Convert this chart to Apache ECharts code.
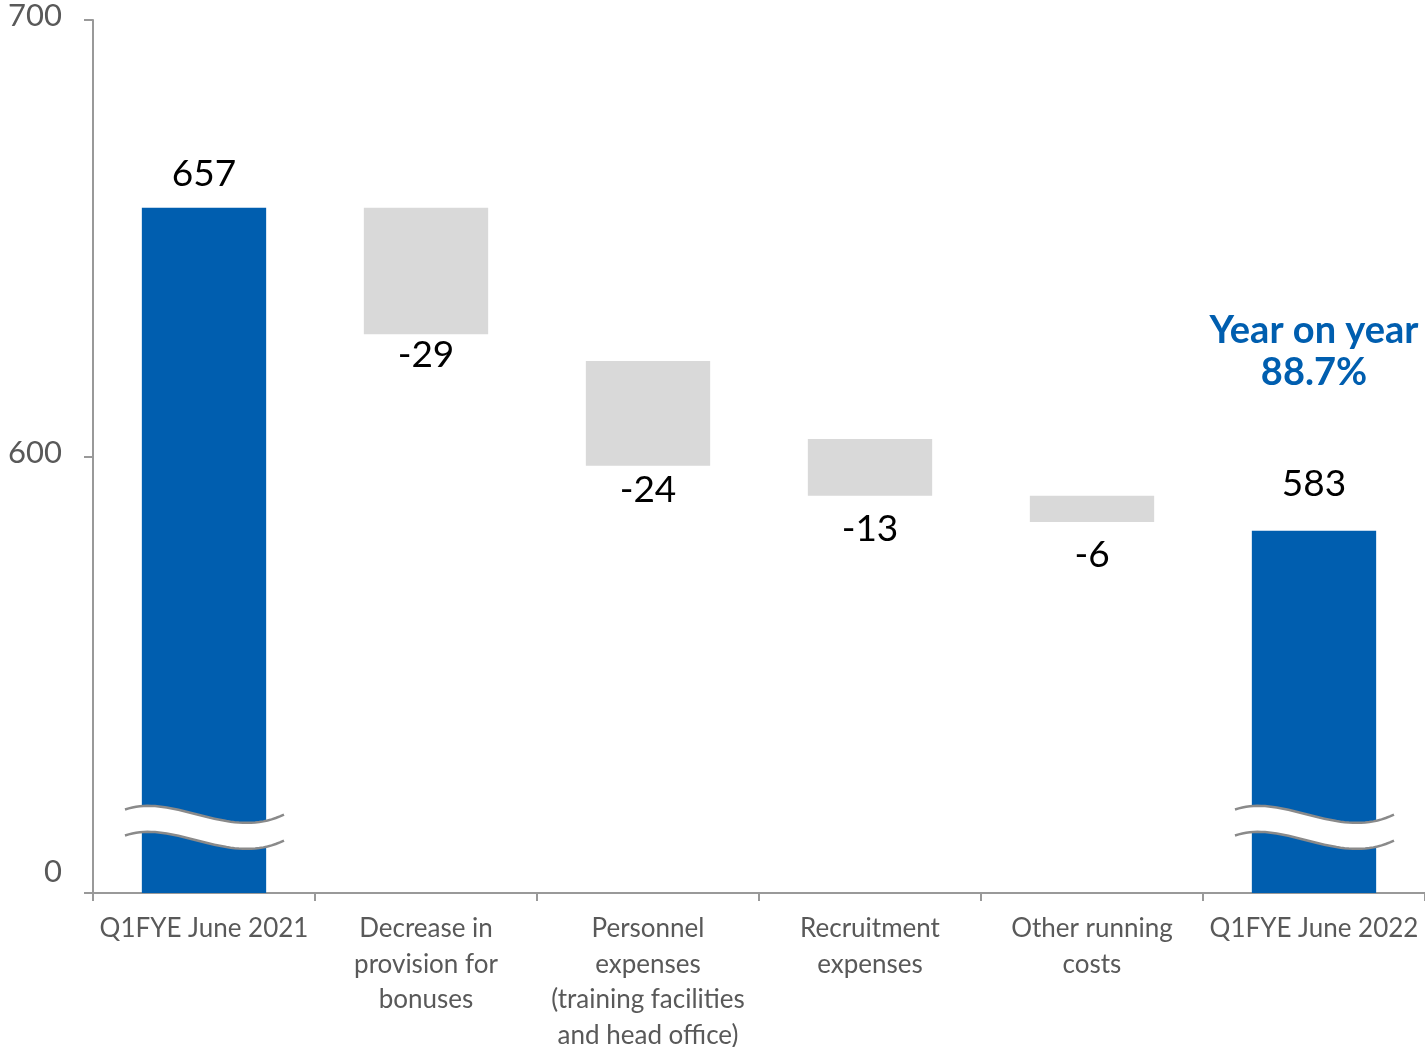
<!DOCTYPE html>
<html>
<head>
<meta charset="utf-8">
<title>Operating expenses bridge</title>
<script src="https://cdn.jsdelivr.net/npm/echarts@6/dist/echarts.min.js"></script>
<style>
  html, body { margin: 0; padding: 0; background: #ffffff; }
  #chart { width: 1425px; height: 1047px; }
</style>
</head>
<body>
<div id="chart"></div>
<script>
// ---- data ----
const categories = [
  'Q1FYE June 2021',
  'Decrease in\nprovision for\nbonuses',
  'Personnel\nexpenses\n(training facilities\nand head office)',
  'Recruitment\nexpenses',
  'Other running\ncosts',
  'Q1FYE June 2022'
];
const totals = [657, null, null, null, null, 583];
const changes = [null, -29, -24, -13, -6, null];
const changeStarts = [null, 657, 621.9, 604.0, 591.0, null];
const yTickValues = [500, 600, 700];
const yTickLabels = ['0', '600', '700'];
const breakLevel = 515;               // value where the broken axis is marked on the total bars
const yoyLines = ['Year on year', '88.7%'];

// ---- styling ----
const BLUE = '#005EAF';
const GREY_BAR = '#D9D9D9';
const AXIS = '#999999';
const TEXT_GREY = '#595959';
const FONT = 'Lato, "Open Sans", sans-serif';
const totalLabelGap = { 0: 14, 5: 27 };
const changeLabelGap = { 1: 1, 2: 4, 3: 13, 4: 13 };

const chart = echarts.init(document.getElementById('chart'), null, { renderer: 'canvas' });

const totalData = totals.map((v, i) => v == null ? '-' : {
  value: v,
  label: { distance: totalLabelGap[i] }
});
const baseData = changes.map((c, i) => c == null ? '-' : changeStarts[i] + c);
const changeData = changes.map((c, i) => c == null ? '-' : {
  value: -c,
  label: { distance: changeLabelGap[i] }
});

// cubic bezier sampled into points (relative to the band centre line)
function bezierPoints(p, dy, n) {
  const pts = [];
  for (let k = 0; k <= n; k++) {
    const t = k / n, u = 1 - t;
    const a = u * u * u, b = 3 * u * u * t, c = 3 * u * t * t, d = t * t * t;
    pts.push([a * p[0][0] + b * p[1][0] + c * p[2][0] + d * p[3][0],
              a * p[0][1] + b * p[1][1] + c * p[2][1] + d * p[3][1] + dy]);
  }
  return pts;
}
const waveCtrl = [[-79, -5], [-30, -22], [25, 27], [80, 0]];
const waveGap = 26;

function renderBreak(params, api) {
  const c = api.coord([api.value(0), api.value(1)]);
  const top = bezierPoints(waveCtrl, -waveGap / 2, 40).map(p => [c[0] + p[0], c[1] + p[1]]);
  const bottom = bezierPoints(waveCtrl, waveGap / 2, 40).map(p => [c[0] + p[0], c[1] + p[1]]);
  const band = top.concat(bottom.slice().reverse());
  return {
    type: 'group',
    children: [
      { type: 'polygon', shape: { points: band }, style: { fill: '#ffffff' } },
      { type: 'polyline', shape: { points: top }, style: { stroke: '#8a8a8a', lineWidth: 2.5, fill: null } },
      { type: 'polyline', shape: { points: bottom }, style: { stroke: '#8a8a8a', lineWidth: 2.5, fill: null } }
    ]
  };
}

const option = {
  backgroundColor: '#ffffff',
  animation: false,
  textStyle: { fontFamily: FONT },
  grid: { left: 93, right: 0, top: 20, bottom: 154, containLabel: false, outerBoundsMode: 'none' },
  xAxis: {
    type: 'category',
    data: categories,
    boundaryGap: true,
    axisLine: { show: true, lineStyle: { color: AXIS, width: 2 } },
    axisTick: { show: true, length: 8, alignWithLabel: false, lineStyle: { color: AXIS, width: 2 } },
    axisLabel: {
      interval: 0,
      margin: 18,
      color: TEXT_GREY,
      fontFamily: FONT,
      fontSize: 26,
      lineHeight: 35.5,
      align: 'center',
      verticalAlign: 'top'
    },
    splitLine: { show: false }
  },
  yAxis: {
    type: 'value',
    min: yTickValues[0],
    max: yTickValues[yTickValues.length - 1],
    interval: yTickValues[1] - yTickValues[0],
    axisLine: { show: true, lineStyle: { color: AXIS, width: 2 } },
    axisTick: { show: true, length: 9, inside: false, lineStyle: { color: AXIS, width: 2 } },
    splitLine: { show: false },
    axisLabel: {
      margin: 31,
      color: TEXT_GREY,
      fontFamily: FONT,
      fontSize: 31,
      formatter: function (v) {
        const i = yTickValues.indexOf(v);
        const t = i >= 0 ? yTickLabels[i] : '';
        return i === 0 ? '{z|' + t + '}' : '{n|' + t + '}';
      },
      rich: {
        n: { fontSize: 31, color: TEXT_GREY, fontFamily: FONT, padding: [0, 0, 8, 0] },
        z: { fontSize: 31, color: TEXT_GREY, fontFamily: FONT, padding: [0, 0, 42, 0] }
      }
    }
  },
  series: [
    {
      name: 'Total',
      type: 'bar',
      barWidth: '56%',
      barGap: '-100%',
      itemStyle: { color: BLUE },
      data: totalData,
      z: 2,
      label: {
        show: true,
        position: 'top',
        formatter: function (p) {
          const v = '{v|' + totals[p.dataIndex] + '}';
          if (p.dataIndex === totals.length - 1) {
            return yoyLines.map(s => '{y|' + s + '}').join('\n') + '\n{g| }\n' + v;
          }
          return v;
        },
        rich: {
          v: { fontSize: 37, lineHeight: 40, color: '#000000', fontFamily: FONT },
          y: { fontSize: 38, lineHeight: 42, color: BLUE, fontWeight: 'bold', fontFamily: FONT, align: 'center' },
          g: { fontSize: 10, lineHeight: 70 }
        }
      }
    },
    {
      name: 'Base',
      type: 'bar',
      stack: 'bridge',
      barWidth: '56%',
      itemStyle: { color: 'transparent' },
      emphasis: { disabled: true },
      silent: true,
      data: baseData
    },
    {
      name: 'Change',
      type: 'bar',
      stack: 'bridge',
      barWidth: '56%',
      itemStyle: { color: GREY_BAR },
      data: changeData,
      label: {
        show: true,
        position: 'bottom',
        color: '#000000',
        fontFamily: FONT,
        fontSize: 37,
        lineHeight: 40,
        formatter: function (p) { return String(changes[p.dataIndex]); }
      }
    },
    {
      name: 'Axis break',
      type: 'custom',
      coordinateSystem: 'cartesian2d',
      silent: true,
      clip: false,
      z: 5,
      encode: { x: 0, y: 1 },
      renderItem: renderBreak,
      data: totals.map((v, i) => v == null ? null : [i, breakLevel]).filter(d => d)
    }
  ]
};

chart.setOption(option);
</script>
</body>
</html>
